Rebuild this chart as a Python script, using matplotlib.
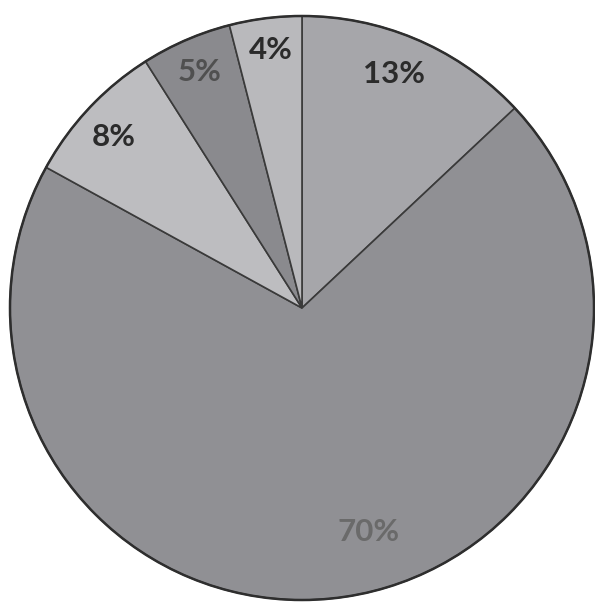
import matplotlib
matplotlib.use("Agg")
import matplotlib.pyplot as plt
import numpy as np

# Data (clockwise from 12 o'clock)
labels = ["13%", "70%", "8%", "5%", "4%"]
values = [13, 70, 8, 5, 4]

# Style
colors = ["#a6a6aa", "#909094", "#bdbdc0", "#8a8a8e", "#b9b9bc"]
text_colors = ["#2b2b2b", "#6a6a6a", "#2b2b2b", "#505050", "#2b2b2b"]
label_r = [0.86, 0.80, 0.87, 0.88, 0.89]
label_dang = [2.0, 9.3, 1.0, 0.0, -0.4]

W, H, DPI = 595, 608, 100
fig = plt.figure(figsize=(W / DPI, H / DPI), dpi=DPI)
ax = fig.add_axes([0, 0, 1, 1])
R = 292
wedges, _ = ax.pie(values, startangle=90, counterclock=False, radius=R,
                   center=(0, 0), colors=colors,
                   wedgeprops=dict(edgecolor="#3a3a3a", linewidth=1.2))

# outer outline slightly darker
circ = plt.Circle((0, 0), R, fill=False, edgecolor="#2e2e2e", linewidth=1.8)
ax.add_patch(circ)

for w, lab, tc, rf, da in zip(wedges, labels, text_colors, label_r, label_dang):
    mid = np.deg2rad((w.theta1 + w.theta2) / 2 + da)
    ax.text(rf * R * np.cos(mid), rf * R * np.sin(mid), lab, ha="center",
            va="center", fontsize=22.5, fontweight="bold", family="Lato",
            color=tc)

ax.set_xlim(-302, 293)
ax.set_ylim(-300, 308)
ax.set_aspect("equal")
ax.axis("off")
fig.savefig("out.png", dpi=DPI, facecolor="white")
